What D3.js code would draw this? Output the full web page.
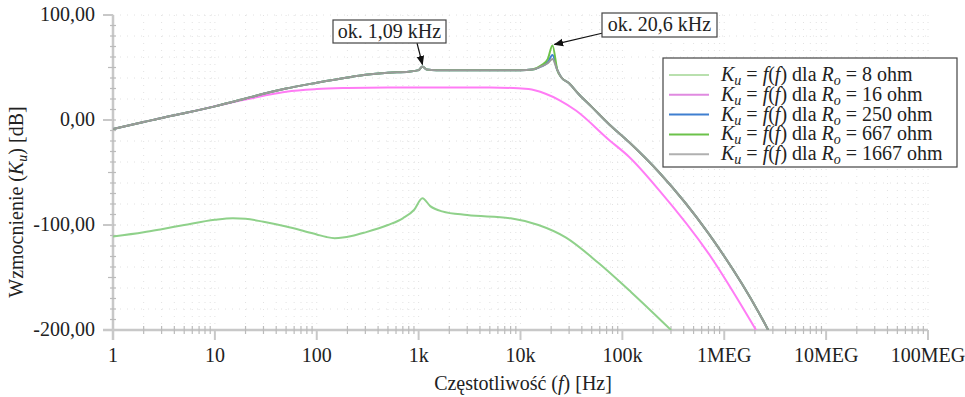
<!DOCTYPE html>
<html>
<head>
<meta charset="utf-8">
<title>Wzmocnienie</title>
<script src="https://d3js.org/d3.v7.min.js"></script>
<style>
  body { margin: 0; background: #fff; }
  text { font-family: "Liberation Serif", "Times New Roman", serif; fill: #222; }
</style>
</head>
<body>
<div id="chart"></div>
<script>
// ---- data ----
const xTickValues = [1, 10, 100, 1e3, 1e4, 1e5, 1e6, 1e7, 1e8];
const xTickLabels = ["1", "10", "100", "1k", "10k", "100k", "1MEG", "10MEG", "100MEG"];
const yTickValues = [100, 0, -100, -200];
const yTickLabels = ["100,00", "0,00", "-100,00", "-200,00"];

const seriesNames = ["8 ohm", "16 ohm", "250 ohm", "667 ohm", "1667 ohm"];
const seriesColors = ["#8fd18a", "#ff7cf5", "#3f7fd0", "#6cc24a", "#9a9a9a"];
const legendColors = ["#b9e0ae", "#e08ae0", "#3f7fd0", "#6cc24a", "#b0b0b0"];

// 8 ohm
const f8 = [1, 2, 3, 5, 10, 15, 20, 30, 50, 70, 100, 125, 150, 180, 220, 300, 500, 700, 900, 1090,
            1300, 1700, 3000, 8000, 15000, 28000, 58000, 122000, 300000];
const k8 = [-111, -107, -104, -100, -95, -93.5, -94, -97, -101.5, -105, -109, -111.5, -112.5, -112, -110.5, -107, -100, -93.6, -85.7, -74.5,
            -82, -87, -90.5, -93.6, -100, -112, -136, -164, -200];

// 16 ohm
const f16 = [1, 2, 3, 5, 10, 20, 30, 50, 100, 200, 500, 1000, 5000, 12000, 17600, 24000, 35000,
             74000, 116000, 230000, 700000, 2050000];
const k16 = [-8.6, -2, 2, 6.5, 13, 19.5, 23, 27, 29.5, 30.5, 31, 31, 31, 29.5, 25, 19, 9,
             -19, -35, -67, -127, -200];

// 250 / 667 / 1667 ohm (common shape, different resonance peak)
const fHi = [1, 2, 3, 5, 10, 20, 30, 50, 100, 200, 300, 500, 800, 1000, 1090, 1200, 1500, 2000,
             5000, 10000, 13000, 16000, 18500, 20600, 23000, 25000, 30000, 37000, 50000, 74000, 116000, 230000,
             700000, 2200000, 2700000];
const k250 = [-8.6, -2, 2, 6.5, 13, 20.5, 25, 30, 35.5, 40.5, 43, 45, 46, 47.5, 51, 48, 47.5, 47.5,
              47.5, 47.5, 48, 51, 55, 62, 47.5, 41, 35, 25, 12.5, -4, -21, -50,
              -108, -184, -200];
const k667 = [-8.6, -2, 2, 6.5, 13, 20.5, 25, 30, 35.5, 40.5, 43, 45, 46, 47.5, 51, 48, 47.5, 47.5,
              47.5, 47.5, 48, 52, 58, 71, 47.5, 41, 35, 25, 12.5, -4, -21, -50,
              -108, -184, -200];
const k1667 = [-8.6, -2, 2, 6.5, 13, 20.5, 25, 30, 35.5, 40.5, 43, 45, 46, 47.5, 51, 48, 47.5, 47.5,
               47.5, 47.5, 48, 51, 54, 58, 47.5, 41, 35, 25, 12.5, -4, -21, -50,
               -108, -184, -200];

const series = [
  {f: f8, k: k8}, {f: f16, k: k16}, {f: fHi, k: k250}, {f: fHi, k: k667}, {f: fHi, k: k1667}
];

// ---- layout ----
const W = 965, H = 397;
const x0 = 113, x1 = 928, yTop = 15, yBot = 330;
const fs = "20px", fsSub = "14px";

const svg = d3.select("#chart").append("svg")
  .attr("width", W).attr("height", H);

const x = d3.scaleLog().domain([1, 1e8]).range([x0, x1]);
const y = d3.scaleLinear().domain([-200, 100]).range([yBot, yTop]);

// minor positions on the log axis
let minorX = [];
for (let d = 0; d < 8; d++) {
  for (let m = 2; m <= 9; m++) minorX.push(m * Math.pow(10, d));
}
const allX = minorX.concat(xTickValues);

// dotted grid
const grid = svg.append("g");
grid.selectAll("line.v").data(allX.filter(v => v > 1)).enter().append("line")
  .attr("x1", d => x(d)).attr("x2", d => x(d))
  .attr("y1", yTop).attr("y2", yBot)
  .attr("stroke", "#e2e2e2").attr("stroke-width", 1)
  .attr("stroke-dasharray", "1,6");
grid.selectAll("line.h").data(d3.range(-180, 101, 20)).enter().append("line")
  .attr("x1", x0).attr("x2", x1)
  .attr("y1", d => y(d)).attr("y2", d => y(d))
  .attr("stroke", "#e2e2e2").attr("stroke-width", 1)
  .attr("stroke-dasharray", "1,6");

// axes
const axisColor = "#c8c8c8";
const ax = svg.append("g");
ax.append("line").attr("x1", x0 - 10).attr("x2", x1).attr("y1", yBot).attr("y2", yBot)
  .attr("stroke", axisColor).attr("stroke-width", 2.5);
ax.append("line").attr("x1", x0).attr("x2", x0).attr("y1", yTop).attr("y2", yBot + 10)
  .attr("stroke", axisColor).attr("stroke-width", 2.5);

// x ticks
ax.selectAll("line.xmin").data(minorX).enter().append("line")
  .attr("x1", d => x(d)).attr("x2", d => x(d))
  .attr("y1", yBot - 4).attr("y2", yBot + 4)
  .attr("stroke", "#bbb").attr("stroke-width", 1.2);
ax.selectAll("line.xmaj").data(xTickValues).enter().append("line")
  .attr("x1", d => x(d)).attr("x2", d => x(d))
  .attr("y1", yBot).attr("y2", yBot + 10)
  .attr("stroke", axisColor).attr("stroke-width", 2);
ax.selectAll("text.xl").data(xTickValues).enter().append("text")
  .attr("x", d => x(d)).attr("y", 362)
  .attr("text-anchor", "middle").attr("font-size", fs)
  .text((d, i) => xTickLabels[i]);

// y ticks
ax.selectAll("line.ymin").data(d3.range(-190, 100, 10)).enter().append("line")
  .attr("x1", d => x0 - (d % 50 === 0 ? 5 : 3)).attr("x2", x0 + 3)
  .attr("y1", d => y(d)).attr("y2", d => y(d))
  .attr("stroke", "#bbb").attr("stroke-width", 1.2);
ax.selectAll("line.ymaj").data(yTickValues).enter().append("line")
  .attr("x1", x0 - 10).attr("x2", x0)
  .attr("y1", d => y(d)).attr("y2", d => y(d))
  .attr("stroke", axisColor).attr("stroke-width", 2);
ax.selectAll("text.yl").data(yTickValues).enter().append("text")
  .attr("x", 95).attr("y", d => y(d) + 6)
  .attr("text-anchor", "end").attr("font-size", fs)
  .text((d, i) => yTickLabels[i]);

// axis titles
const xt = svg.append("text").attr("x", 523).attr("y", 390)
  .attr("text-anchor", "middle").attr("font-size", fs);
xt.append("tspan").text("Częstotliwość (");
xt.append("tspan").attr("font-style", "italic").text("f");
xt.append("tspan").text(") [Hz]");

const yt = svg.append("text")
  .attr("transform", "translate(23,202) rotate(-90)")
  .attr("text-anchor", "middle").attr("font-size", fs);
yt.append("tspan").text("Wzmocnienie (");
yt.append("tspan").attr("font-style", "italic").text("K");
yt.append("tspan").attr("font-style", "italic").attr("font-size", fsSub).attr("dy", 4).text("u");
yt.append("tspan").attr("dy", -4).text(") [dB]");

// curves
svg.append("clipPath").attr("id", "plot").append("rect")
  .attr("x", x0).attr("y", yTop - 5).attr("width", x1 - x0).attr("height", yBot - yTop + 5);

const line = d3.line()
  .x(d => x(d[0])).y(d => y(d[1]))
  .curve(d3.curveMonotoneX);

svg.append("g").attr("clip-path", "url(#plot)")
  .selectAll("path").data(series).enter().append("path")
  .attr("d", s => line(s.f.map((f, i) => [f, s.k[i]])))
  .attr("fill", "none")
  .attr("stroke", (s, i) => seriesColors[i])
  .attr("stroke-width", 2)
  .attr("stroke-linejoin", "round");

// annotations
svg.append("defs").append("marker")
  .attr("id", "arr").attr("viewBox", "0 0 10 10")
  .attr("refX", 9).attr("refY", 5)
  .attr("markerWidth", 8).attr("markerHeight", 8)
  .attr("orient", "auto-start-reverse")
  .append("path").attr("d", "M0,1 L10,5 L0,9 Z").attr("fill", "#111");

function note(label, bx, by, bw, bh, sx, sy, fx, fy) {
  const g = svg.append("g");
  g.append("line").attr("x1", sx).attr("y1", sy).attr("x2", fx).attr("y2", fy)
    .attr("stroke", "#111").attr("stroke-width", 1.2).attr("marker-end", "url(#arr)");
  g.append("rect").attr("x", bx).attr("y", by).attr("width", bw).attr("height", bh)
    .attr("fill", "#fff").attr("stroke", "#444").attr("stroke-width", 1.2);
  g.append("text").attr("x", bx + bw / 2).attr("y", by + bh / 2 + 6)
    .attr("text-anchor", "middle").attr("font-size", fs).text(label);
}
note("ok. 1,09 kHz", 333, 20, 113, 23, 417, 43, x(1090), y(51) - 2);
note("ok. 20,6 kHz", 602, 13, 115, 24, 603, 33, x(20600) + 2, y(71) - 1);

// legend
const lg = svg.append("g");
lg.append("rect").attr("x", 663).attr("y", 58).attr("width", 294).attr("height", 109)
  .attr("fill", "#fff").attr("stroke", "#444").attr("stroke-width", 1.2);
seriesNames.forEach((name, i) => {
  const ly = 75 + i * 19.8;
  lg.append("line").attr("x1", 669).attr("x2", 709).attr("y1", ly).attr("y2", ly)
    .attr("stroke", legendColors[i]).attr("stroke-width", 2);
  const t = lg.append("text").attr("x", 721).attr("y", ly + 6).attr("font-size", fs);
  t.append("tspan").attr("font-style", "italic").text("K");
  t.append("tspan").attr("font-style", "italic").attr("font-size", fsSub).attr("dy", 4).text("u");
  t.append("tspan").attr("dy", -4).text(" = ");
  t.append("tspan").attr("font-style", "italic").text("f");
  t.append("tspan").text("(");
  t.append("tspan").attr("font-style", "italic").text("f");
  t.append("tspan").text(") dla ");
  t.append("tspan").attr("font-style", "italic").text("R");
  t.append("tspan").attr("font-style", "italic").attr("font-size", fsSub).attr("dy", 4).text("o");
  t.append("tspan").attr("dy", -4).text(" = " + name);
});
</script>
</body>
</html>
